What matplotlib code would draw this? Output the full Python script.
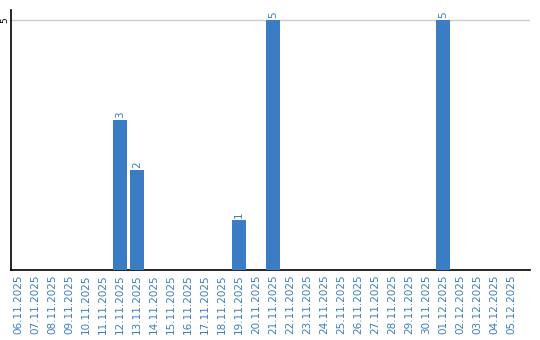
import matplotlib.pyplot as plt
import pandas as pd

# dates shown on the x axis
dates = pd.date_range("2025-11-06", "2025-12-05").strftime("%d.%m.%Y").tolist()
counts = {"12.11.2025": 3, "13.11.2025": 2, "19.11.2025": 1,
          "21.11.2025": 5, "01.12.2025": 5}
values = [counts.get(d, 0) for d in dates]

bar_color = "#3b7dc4"

fig = plt.figure(figsize=(5.4, 3.4), dpi=100)
ax = fig.add_axes([11 / 540, 70 / 340, 519 / 540, 260 / 340])

x = list(range(len(dates)))
bars = ax.bar(x, values, width=0.82, color=bar_color, zorder=3)

for xi, v in zip(x, values):
    if v > 0:
        ax.text(xi, v + 0.05, str(v), rotation=90, ha="center", va="bottom",
                fontsize=7.5, color=bar_color)

# 17 px per category, first category centred 7 px right of the spine
left = -7 / 17
ax.set_xlim(left, left + 519 / 17)
ax.set_ylim(0, 5.2)
ax.set_yticks([5])
ax.set_yticklabels(["5"], rotation=90, va="center", fontsize=6.5)
ax.set_xticks(x)
ax.set_xticklabels(dates, rotation=90, fontsize=7.5, color=bar_color)
ax.tick_params(length=0, pad=3)
ax.tick_params(axis="y", pad=1.5)
ax.yaxis.grid(True, color="#cccccc", linewidth=1, zorder=0)

for side in ["top", "right"]:
    ax.spines[side].set_visible(False)
ax.spines["left"].set_linewidth(1.2)
ax.spines["bottom"].set_linewidth(1.2)

fig.savefig("out.png", dpi=100)
